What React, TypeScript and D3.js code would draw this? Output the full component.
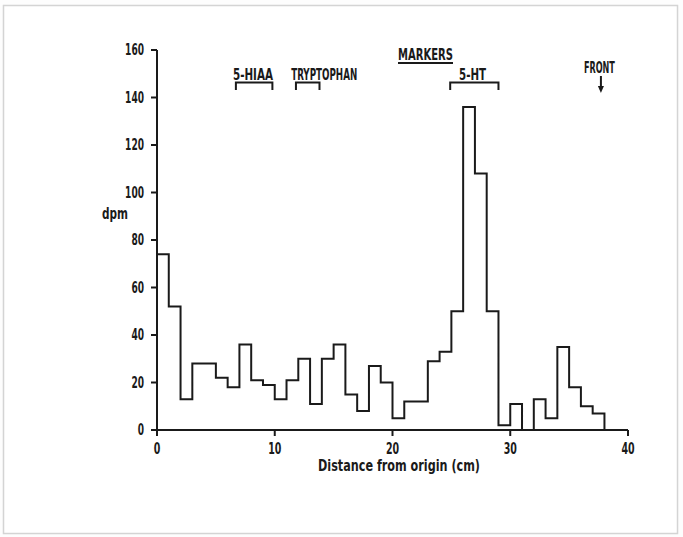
import React from "react";
import * as d3 from "d3";

// Histogram: dpm per 1-cm strip, starting at 0 cm
const binStarts = d3.range(0, 38);
const dpm = [74, 52, 13, 28, 28, 22, 18, 36, 21, 19, 13, 21, 30, 11, 30, 36, 15, 8, 27, 20, 5, 12, 12, 29, 33, 50, 136, 108, 50, 2, 11, 0, 13, 5, 35, 18, 10, 7];

const xTicks = [0, 10, 20, 30, 40];
const yTicks = [0, 20, 40, 60, 80, 100, 120, 140, 160];

const markerNames = ["5-HIAA", "TRYPTOPHAN", "5-HT"];
const markerStart = [6.7, 11.8, 24.9];
const markerEnd = [9.8, 13.8, 29.0];
const markerLabelX = [8.15, 14.2, 26.8];
const frontPos = 37.7;

const W = 683, H = 537;
const FONT = "'DejaVu Sans', sans-serif";
const INK = "#1a1a1a";

function T(props: { x: number; y: number; w: number; size: number; anchor?: string; children: React.ReactNode; dy?: string }) {
  return (
    <text
      x={props.x}
      y={props.y}
      dy={props.dy}
      textAnchor={props.anchor || "middle"}
      fontSize={props.size}
      textLength={props.w}
      lengthAdjust="spacingAndGlyphs"
      style={{ fontStretch: "condensed" }}
    >
      {props.children}
    </text>
  );
}

export default function App() {
  const x = d3.scaleLinear().domain([0, 40]).range([157, 628]);
  const y = d3.scaleLinear().domain([0, 160]).range([430, 50]);

  const pts: [number, number][] = [[0, 0]];
  binStarts.forEach((b, i) => pts.push([b, dpm[i]]));
  pts.push([binStarts[binStarts.length - 1] + 1, 0]);
  const line = d3.line<[number, number]>().x(d => x(d[0])).y(d => y(d[1])).curve(d3.curveStepAfter);

  const bracketTop = 82.5, bracketBot = 90;
  const markerW = [40, 66, 27];

  return (
    <div style={{ position: "absolute", left: 0, top: 0 }}>
      <svg width={W} height={H} style={{ display: "block", background: "#fff" }}>
        <rect x={0} y={0} width={W} height={H} fill="#fdfdfd" />
        <rect x={3.5} y={5.5} width={674} height={528} fill="#fff" stroke="#d4d4d4" strokeWidth={1.5} />
        <g fontFamily={FONT} fontWeight="bold" fill={INK}>
          {/* axes */}
          <line x1={x(0)} x2={x(40)} y1={y(0)} y2={y(0)} stroke={INK} strokeWidth={2} />
          <line x1={x(0)} x2={x(0)} y1={y(0)} y2={y(160)} stroke={INK} strokeWidth={2} />
          {yTicks.map(t => (
            <g key={"y" + t}>
              <line x1={x(0) - 6} x2={x(0)} y1={y(t)} y2={y(t)} stroke={INK} strokeWidth={2} />
              <T x={x(0) - 13} y={y(t)} dy="0.36em" anchor="end" size={15} w={String(t).length * 6.3}>{t}</T>
            </g>
          ))}
          {xTicks.map(t => (
            <g key={"x" + t}>
              <line x1={x(t)} x2={x(t)} y1={y(0)} y2={y(0) + 6} stroke={INK} strokeWidth={2} />
              <T x={x(t)} y={453.5} size={16} w={String(t).length * 6.6}>{t}</T>
            </g>
          ))}
          <T x={399} y={470.5} size={15} w={162}>Distance from origin (cm)</T>
          <T x={115} y={219} size={15} w={26}>dpm</T>

          {/* histogram */}
          <path d={line(pts) || ""} fill="none" stroke={INK} strokeWidth={2} />

          {/* markers */}
          <T x={425.5} y={60} size={15} w={55}>MARKERS</T>
          <line x1={398} x2={453} y1={63} y2={63} stroke={INK} strokeWidth={1.8} />
          {markerNames.map((n, i) => (
            <g key={n}>
              <T x={x(markerLabelX[i])} y={79.5} size={15} w={markerW[i]}>{n}</T>
              <path
                d={`M${x(markerStart[i])},${bracketBot}V${bracketTop}H${x(markerEnd[i])}V${bracketBot}`}
                fill="none" stroke={INK} strokeWidth={2}
              />
            </g>
          ))}
          <T x={x(frontPos) - 1.5} y={72.5} size={15} w={31}>FRONT</T>
          <line x1={x(frontPos)} x2={x(frontPos)} y1={76} y2={90} stroke={INK} strokeWidth={2} />
          <path d={`M${x(frontPos) - 3},${86}L${x(frontPos)},${93}L${x(frontPos) + 3},${86}Z`} fill={INK} />
        </g>
      </svg>
    </div>
  );
}
